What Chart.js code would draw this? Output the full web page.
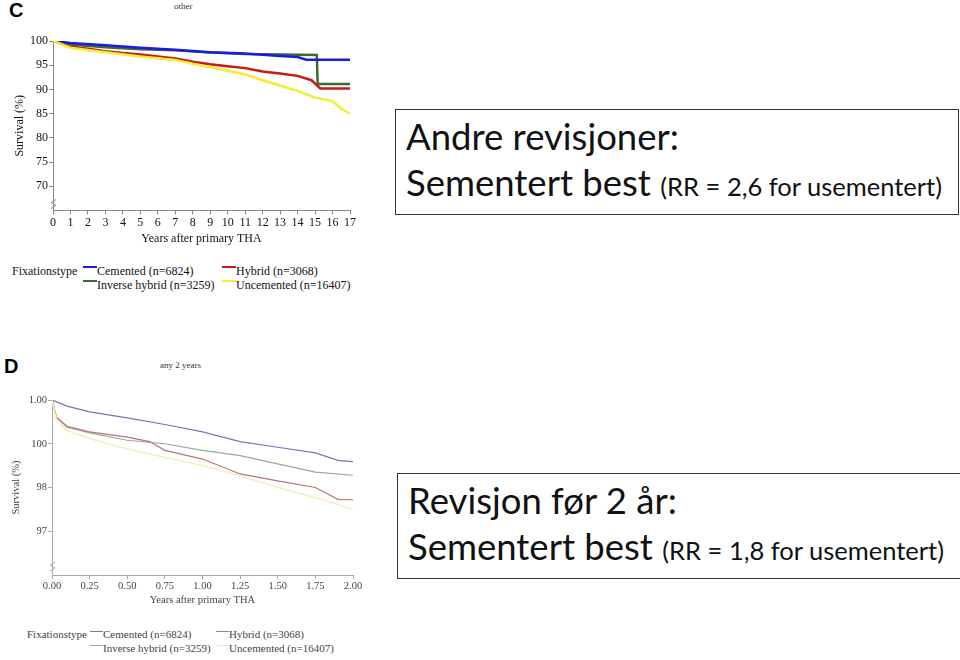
<!DOCTYPE html>
<html>
<head>
<meta charset="utf-8">
<script src="https://cdn.jsdelivr.net/npm/chart.js@4"></script>
<style>
  body { margin: 0; background: #fff; width: 960px; height: 660px; position: relative; overflow: hidden; }
  .abs { position: absolute; }
  .panel { position: absolute; font-family: "Liberation Sans", Arial, sans-serif; font-weight: bold; font-size: 20px; }
  .sub { position: absolute; font-family: "Liberation Serif", serif; font-size: 9px; color: #333; }
  .leg { position: absolute; font-family: "Liberation Serif", serif; white-space: nowrap; }
  .box { position: absolute; border: 1px solid #333; font-family: "Lato", "Open Sans", sans-serif; color: #111; }
  .box .l { position: absolute; left: 10px; white-space: nowrap; }
</style>
</head>
<body>

<div class="panel" style="left:9px; top:-1px;">C</div>
<div class="sub" style="left:174px; top:1px;">other</div>
<div class="abs" style="left:0; top:20px; width:365px; height:232px;"><canvas id="chartC"></canvas></div>
<div id="legC"></div>

<div class="panel" style="left:4px; top:355px;">D</div>
<div class="sub" style="left:160px; top:360px;">any 2 years</div>
<div class="abs" style="left:0; top:375px; width:365px; height:240px;"><canvas id="chartD"></canvas></div>
<div id="legD"></div>

<div class="box" style="left:395px; top:109px; width:562px; height:104px;">
  <div class="l" style="top:4px; font-size:36.5px;">Andre revisjoner:</div>
  <div class="l" style="top:50px; font-size:36.5px;">Sementert best <span style="font-size:25.5px;">(RR = 2,6 for usementert)</span></div>
</div>
<div class="box" style="left:397px; top:473px; width:600px; height:104px;">
  <div class="l" style="top:4px; font-size:36.5px;">Revisjon før 2 år:</div>
  <div class="l" style="top:50px; font-size:36.5px;">Sementert best <span style="font-size:25.5px;">(RR = 1,8 for usementert)</span></div>
</div>

<script>
// legend names
const seriesNames = ['Cemented (n=6824)', 'Hybrid (n=3068)', 'Inverse hybrid (n=3259)', 'Uncemented (n=16407)'];
const colorsC = ['#1c1ce0', '#c81818', '#3d6b2a', '#f2ee30'];
const colorsD = ['#7474c0', '#c07078', '#98aa98', '#f0f0b8'];

// panel C - other (years 0..17)
const cemC_x = [0, 1, 3, 5, 7, 9, 11, 13, 14, 14.5, 17];
const cemC_y = [100, 99.6, 99.1, 98.6, 98.2, 97.7, 97.4, 96.9, 96.7, 96.15, 96.15];
const hybC_x = [0, 1, 2, 3, 4, 5, 7, 8, 9, 10, 11, 12, 13, 14, 14.8, 15.3, 17];
const hybC_y = [100, 98.8, 98.4, 97.9, 97.5, 97.2, 96.4, 95.7, 95.2, 94.8, 94.4, 93.7, 93.3, 92.8, 91.9, 90.2, 90.2];
const invC_x = [0, 1, 3, 5, 7, 9, 11, 13, 15.1, 15.15, 17];
const invC_y = [100, 99.3, 98.7, 98.3, 98.1, 97.6, 97.3, 97.2, 97.1, 91.1, 91.1];
const uncC_x = [0, 1, 3, 5, 7, 8, 9, 10, 11, 12, 13, 14, 15, 16, 16.5, 17];
const uncC_y = [100, 98.6, 97.7, 96.8, 96.1, 95.3, 94.6, 93.9, 93.1, 91.9, 90.8, 89.7, 88.3, 87.6, 86.0, 85.0];

// panel D - any 2 years
const cemD_x = [0, 0.1, 0.25, 0.5, 0.75, 1.0, 1.25, 1.5, 1.75, 1.9, 2.0];
const cemD_y = [100, 99.86, 99.73, 99.59, 99.44, 99.27, 99.05, 98.92, 98.79, 98.62, 98.59];
const hybD_x = [0, 0.03, 0.1, 0.25, 0.5, 0.65, 0.75, 1.0, 1.25, 1.5, 1.75, 1.9, 2.0];
const hybD_y = [100, 99.6, 99.4, 99.27, 99.15, 99.05, 98.85, 98.65, 98.31, 98.15, 98.0, 97.73, 97.72];
const invD_x = [0, 0.03, 0.1, 0.25, 0.5, 0.75, 1.0, 1.25, 1.5, 1.75, 2.0];
const invD_y = [100, 99.6, 99.38, 99.25, 99.08, 99.0, 98.85, 98.73, 98.54, 98.35, 98.28];
const uncD_x = [0, 0.03, 0.1, 0.25, 0.5, 0.75, 1.0, 1.25, 1.5, 1.75, 2.0];
const uncD_y = [100, 99.55, 99.3, 99.12, 98.88, 98.69, 98.5, 98.27, 98.0, 97.77, 97.5];

const ticksC = [70, 75, 80, 85, 90, 95, 100];
const ticksD = [97, 98, 99, 100];
const tickLabelsD = ['97', '98', '100', '1.00'];  // as printed in the figure

function pts(xs, ys) { return xs.map((x, i) => ({ x: x, y: ys[i] })); }

// little axis break mark at bottom of y axis
const breakMark = {
    id: 'breakMark',
    afterDraw(chart, args, opts) {
        const ctx = chart.ctx, a = chart.chartArea;
        const y = a.bottom - opts.off;
        ctx.save();
        ctx.strokeStyle = opts.color;
        ctx.lineWidth = 1;
        ctx.beginPath();
        ctx.moveTo(a.left + 3, y - 5);
        ctx.lineTo(a.left - 2, y - 2);
        ctx.lineTo(a.left + 3, y + 1);
        ctx.lineTo(a.left - 2, y + 4);
        ctx.stroke();
        ctx.restore();
    }
};

function makeChart(id, cfg) {
    const font = { family: 'Liberation Serif', size: cfg.fontSize };
    return new Chart(document.getElementById(id).getContext('2d'), {
        type: 'line',
        data: { datasets: cfg.datasets },
        options: {
            responsive: true,
            maintainAspectRatio: false,
            animation: false,
            layout: { padding: cfg.padding },
            elements: { point: { radius: 0 }, line: { tension: 0 } },
            plugins: { legend: { display: false }, tooltip: { enabled: false }, breakMark: { color: cfg.axisColor, off: cfg.breakOff } },
            scales: {
                x: {
                    type: 'linear', min: cfg.xMin, max: cfg.xMax,
                    afterFit: s => { s.height = cfg.xHeight; },
                    border: { color: cfg.axisColor },
                    grid: { drawOnChartArea: false, drawTicks: true, tickLength: 4, color: cfg.axisColor },
                    ticks: { stepSize: cfg.xStep, color: cfg.textColor, font: font, padding: 1, maxRotation: 0,
                        callback: v => cfg.xFmt(v) },
                    title: { display: true, text: 'Years after primary THA', color: cfg.textColor, font: font, padding: 0 }
                },
                y: {
                    min: cfg.yMin, max: cfg.yMax,
                    afterFit: s => { s.width = cfg.yWidth; },
                    afterBuildTicks: s => { s.ticks = cfg.yTicks.map(v => ({ value: v })); },
                    border: { color: cfg.axisColor },
                    grid: { drawOnChartArea: false, drawTicks: true, tickLength: 4, color: cfg.axisColor },
                    ticks: { color: cfg.textColor, font: font, padding: 1, callback: v => cfg.yFmt(v) },
                    title: { display: true, text: 'Survival (%)', color: cfg.textColor, font: font, padding: 0 }
                }
            }
        },
        plugins: [breakMark]
    });
}

makeChart('chartC', {
    fontSize: 12, axisColor: '#888', textColor: '#111', breakOff: 6,
    padding: { top: 21, right: 15, left: 13, bottom: 6 },
    xMin: 0, xMax: 17, xStep: 1, xHeight: 35.5, xFmt: v => v,
    yMin: 65, yMax: 100, yTicks: ticksC, yWidth: 40, yFmt: v => v,
    datasets: [
        { label: seriesNames[3], data: pts(uncC_x, uncC_y), borderColor: colorsC[3], borderWidth: 2.5 },
        { label: seriesNames[1], data: pts(hybC_x, hybC_y), borderColor: colorsC[1], borderWidth: 2.5 },
        { label: seriesNames[0], data: pts(cemC_x, cemC_y), borderColor: colorsC[0], borderWidth: 2.5 },
        { label: seriesNames[2], data: pts(invC_x, invC_y), borderColor: colorsC[2], borderWidth: 2.5 }
    ]
});

makeChart('chartD', {
    fontSize: 10.5, axisColor: '#aaa', textColor: '#444', breakOff: 8,
    padding: { top: 25, right: 12, left: 10, bottom: 8 },
    xMin: 0, xMax: 2, xStep: 0.25, xHeight: 32, xFmt: v => v.toFixed(2),
    yMin: 96, yMax: 100, yTicks: ticksD, yWidth: 42, yFmt: v => tickLabelsD[ticksD.indexOf(v)],
    datasets: [
        { label: seriesNames[3], data: pts(uncD_x, uncD_y), borderColor: colorsD[3], borderWidth: 1.5 },
        { label: seriesNames[1], data: pts(hybD_x, hybD_y), borderColor: colorsD[1], borderWidth: 1.2 },
        { label: seriesNames[2], data: pts(invD_x, invD_y), borderColor: colorsD[2], borderWidth: 1.2 },
        { label: seriesNames[0], data: pts(cemD_x, cemD_y), borderColor: colorsD[0], borderWidth: 1.2 }
    ]
});

// html legends: "Fixationstype" + 2x2 grid
function buildLegend(elId, colors, pos) {
    const el = document.getElementById(elId);
    let html = '<div class="leg" style="left:' + pos.left + 'px; top:' + pos.top + 'px; font-size:' + pos.size + 'px; color:' + pos.color + ';">Fixationstype</div>';
    seriesNames.forEach((name, i) => {
        const col = i % 2, row = Math.floor(i / 2);
        const x = pos.cols[col], y = pos.top + row * pos.rowH;
        html += '<div class="leg" style="left:' + x + 'px; top:' + y + 'px; font-size:' + pos.size + 'px; color:' + pos.color + ';">' +
            '<span style="display:inline-block; width:' + pos.seg + 'px; height:0; border-top:' + pos.segW + 'px solid ' + colors[i] + '; vertical-align:' + pos.segV + 'px;"></span>' +
            name + '</div>';
    });
    el.innerHTML = html;
}
buildLegend('legC', colorsC, { left: 12, top: 264, rowH: 14, cols: [83, 222], size: 12, color: '#111', seg: 14, segW: 2, segV: 7 });
buildLegend('legD', colorsD, { left: 27, top: 628, rowH: 13.5, cols: [90, 216], size: 11, color: '#444', seg: 13, segW: 1, segV: 6 });
</script>
</body>
</html>
